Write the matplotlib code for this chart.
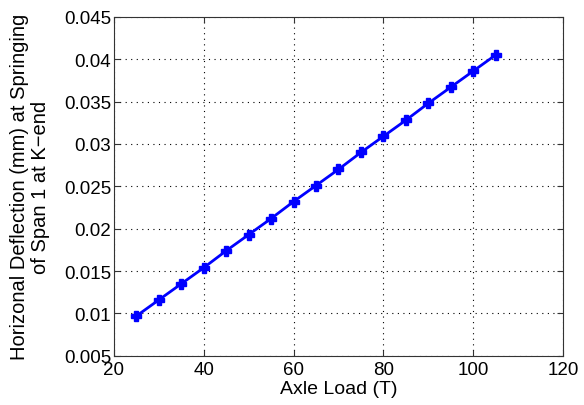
import matplotlib
matplotlib.use("Agg")
import matplotlib.pyplot as plt

axle_load = [25, 30, 35, 40, 45, 50, 55, 60, 65, 70, 75, 80, 85, 90, 95, 100, 105]
deflection = [0.0097, 0.0116, 0.0135, 0.0154, 0.0174, 0.0193, 0.0212, 0.0232, 0.0251,
              0.0270, 0.0290, 0.0309, 0.0328, 0.0348, 0.0367, 0.0386, 0.0405]
xticks = [20, 40, 60, 80, 100, 120]
yticks = [0.005, 0.01, 0.015, 0.02, 0.025, 0.03, 0.035, 0.04, 0.045]
ytick_labels = ["0.005", "0.01", "0.015", "0.02", "0.025", "0.03", "0.035", "0.04", "0.045"]

plt.rcParams['font.family'] = ['Liberation Sans', 'DejaVu Sans']

fig = plt.figure(figsize=(5.84, 4.06), dpi=100)
ax = fig.add_axes((0.195, 0.121, 0.769, 0.835))

ax.plot(axle_load, deflection, color='#0000ff', lw=2, marker='P', ms=7, mec='#0000ff')

ax.set_xlim(20, 120)
ax.set_ylim(0.005, 0.045)
ax.set_xticks(xticks)
ax.set_yticks(yticks)
ax.set_yticklabels(ytick_labels)
ax.tick_params(direction='in', length=4, top=True, right=True, labelsize=13.5, pad=2,
               color='#333333')
ax.tick_params(axis='x', pad=4)
ax.grid(True, color='black', linestyle=(0, (1, 4)), lw=0.8)
for s in ax.spines.values():
    s.set_color('#333333')

ax.set_xlabel('Axle Load (T)', fontsize=14, labelpad=1)
ax.set_ylabel('Horizonal Deflection (mm) at Springing\nof Span 1 at K\u2212end', fontsize=14.5,
              labelpad=10, linespacing=1.15)

fig.savefig('out.png', dpi=100)
